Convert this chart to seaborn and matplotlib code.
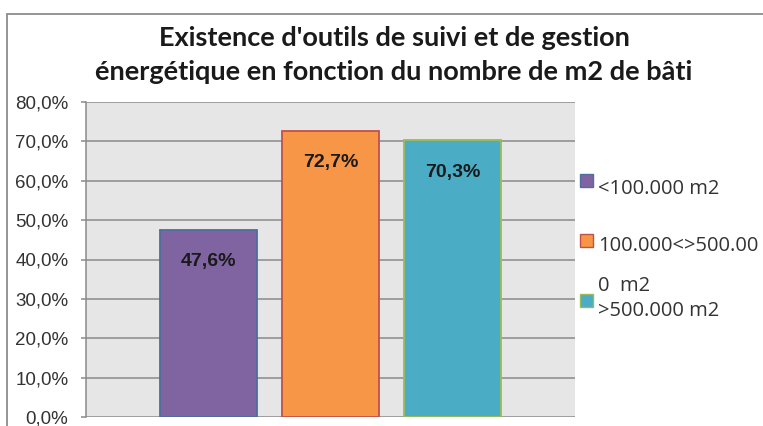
import matplotlib
matplotlib.use("Agg")
import matplotlib.pyplot as plt
from matplotlib.patches import Rectangle
from matplotlib.ticker import FuncFormatter
import seaborn as sns
import pandas as pd

# Data
categories = ["<100.000 m2", "100.000<>500.000 m2", ">500.000 m2"]
values = [47.6, 72.7, 70.3]
value_labels = ["47,6%", "72,7%", "70,3%"]
legend_labels = ["<100.000 m2", "100.000<>500.00", "0  m2\n>500.000 m2"]
yticks = [0, 10, 20, 30, 40, 50, 60, 70, 80]

fills = ["#8064a2", "#f79646", "#4bacc6"]
edges = ["#4f6d9e", "#c0504d", "#9bbb59"]

sns.set_style("white")
plt.rcParams["font.family"] = ["Liberation Sans", "DejaVu Sans"]

W, H = 763, 426
fig = plt.figure(figsize=(W / 100, H / 100), dpi=100)
fig.patch.set_facecolor("white")


def fx(px):
    return px / W


def fy(py):
    return 1 - py / H


# outer chart frame (continues past the right and bottom edges)
fig.add_artist(Rectangle((fx(7), -0.2), 1.2, (H - 14) / H + 0.2,
                         transform=fig.transFigure, fill=False,
                         edgecolor="#8c8c8c", lw=1.3))

left, right, top, bottom = 86, 575, 102, 417
ax = fig.add_axes([fx(left), fy(bottom), (right - left) / W, (bottom - top) / H])
ax.set_facecolor("#e6e6e6")

df = pd.DataFrame({"cat": categories, "val": values})
sns.barplot(data=df, x="cat", y="val", hue="cat", palette=fills,
            width=0.79, legend=False, ax=ax, saturation=1, zorder=3)

for bar, ec in zip(ax.patches, edges):
    bar.set_edgecolor(ec)
    bar.set_linewidth(1.3)

for i, (v, lab) in enumerate(zip(values, value_labels)):
    ax.annotate(lab, (i, v), xytext=(0, -32), textcoords="offset pixels",
                ha="center", va="center", fontsize=14, fontweight="bold",
                color="#1a1a1a", zorder=4)

ax.set_xlim(-1, 3)
ax.set_ylim(0, 80)
ax.set_yticks(yticks)
ax.yaxis.set_major_formatter(FuncFormatter(lambda v, p: f"{v:.1f}%".replace(".", ",")))
ax.set_xticks([])
ax.set_xlabel("")
ax.set_ylabel("")
ax.grid(axis="y", color="#8a8a8a", lw=1.1, zorder=1)
ax.set_axisbelow(True)
ax.tick_params(axis="y", length=3.6, width=1.1, color="#8a8a8a", pad=9,
               labelsize=13.5, labelcolor="#333333", left=True)
for s in ["top", "right", "bottom"]:
    ax.spines[s].set_visible(False)
ax.spines["left"].set_color("#8a8a8a")
ax.spines["left"].set_linewidth(1.1)

fig.text(fx(394), fy(55),
         "Existence d'outils de suivi et de gestion\nénergétique en fonction du nombre de m2 de bâti",
         ha="center", va="center", fontsize=19.5, fontweight="bold",
         family=["Lato", "DejaVu Sans"], color="#1a1a1a", linespacing=1.5)

# legend: colour keys with their labels beside the plot area
key_y = [180, 240, 300]
text_y = [189, 246, 298.5]
for f, e, lab, ky, ty in zip(fills, edges, legend_labels, key_y, text_y):
    fig.add_artist(Rectangle((fx(580), fy(ky + 6.5)), 13 / W, 13 / H,
                             transform=fig.transFigure, facecolor=f,
                             edgecolor=e, lw=1.0))
    fig.text(fx(598), fy(ty), lab, ha="left", va="center", fontsize=14.5,
             family=["Open Sans", "DejaVu Sans"], color="#333333",
             linespacing=1.3)

fig.savefig("out.png", dpi=100)
